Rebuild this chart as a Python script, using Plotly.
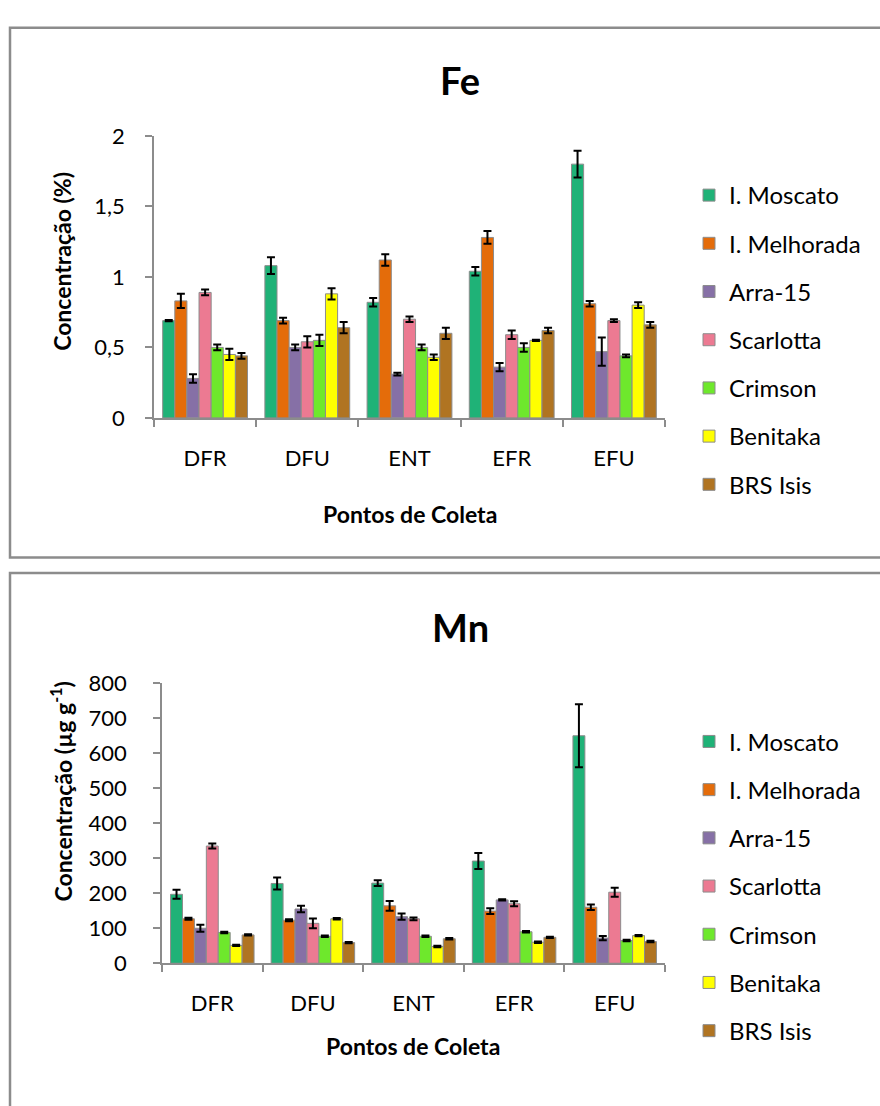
import plotly.graph_objects as go

points = ["DFR", "DFU", "ENT", "EFR", "EFU"]
cultivars = ["I. Moscato", "I. Melhorada", "Arra-15", "Scarlotta", "Crimson", "Benitaka", "BRS Isis"]
colors = ["#1FB277", "#E46C0A", "#8670A6", "#EC7A92", "#6EE82C", "#FFFF00", "#B07422"]

# Fe concentration (%) per cultivar, across points DFR, DFU, ENT, EFR, EFU
fe_vals = {
    "I. Moscato":   [0.69, 1.08, 0.82, 1.04, 1.80],
    "I. Melhorada": [0.83, 0.69, 1.12, 1.28, 0.81],
    "Arra-15":      [0.28, 0.50, 0.31, 0.36, 0.47],
    "Scarlotta":    [0.89, 0.54, 0.70, 0.59, 0.69],
    "Crimson":      [0.50, 0.55, 0.50, 0.50, 0.44],
    "Benitaka":     [0.45, 0.88, 0.43, 0.55, 0.80],
    "BRS Isis":     [0.44, 0.64, 0.60, 0.62, 0.66],
}
fe_err = {
    "I. Moscato":   [0.005, 0.06, 0.03, 0.03, 0.095],
    "I. Melhorada": [0.05, 0.02, 0.04, 0.045, 0.02],
    "Arra-15":      [0.03, 0.02, 0.01, 0.03, 0.10],
    "Scarlotta":    [0.02, 0.04, 0.02, 0.03, 0.01],
    "Crimson":      [0.02, 0.04, 0.02, 0.03, 0.01],
    "Benitaka":     [0.04, 0.04, 0.02, 0.005, 0.02],
    "BRS Isis":     [0.02, 0.04, 0.04, 0.02, 0.02],
}

# Mn concentration (ug/g)
mn_vals = {
    "I. Moscato":   [197, 228, 229, 292, 650],
    "I. Melhorada": [127, 123, 164, 149, 160],
    "Arra-15":      [100, 155, 133, 181, 72],
    "Scarlotta":    [335, 114, 127, 170, 203],
    "Crimson":      [88, 77, 77, 90, 65],
    "Benitaka":     [51, 127, 48, 60, 79],
    "BRS Isis":     [81, 59, 70, 74, 62],
}
mn_err = {
    "I. Moscato":   [13, 17, 8, 23, 90],
    "I. Melhorada": [3, 3, 14, 8, 8],
    "Arra-15":      [10, 9, 9, 2, 6],
    "Scarlotta":    [7, 14, 4, 7, 13],
    "Crimson":      [2, 2, 2, 2, 2],
    "Benitaka":     [2, 2, 2, 2, 2],
    "BRS Isis":     [2, 2, 2, 2, 2],
}

FONT = "Lato"
W, H = 880, 1106
TXT = 22
TITLE_TXT = 23

def py(p):
    return 1 - p / H

fig = go.Figure()

for i, c in enumerate(cultivars):
    fig.add_trace(go.Bar(
        x=points, y=fe_vals[c], name=c, xaxis="x", yaxis="y",
        marker=dict(color=colors[i], line=dict(color="#8C8C8C", width=1)),
        error_y=dict(type="data", array=fe_err[c], color="black", thickness=2, width=4),
        legend="legend", legendgroup="fe" + str(i),
    ))
for i, c in enumerate(cultivars):
    fig.add_trace(go.Bar(
        x=points, y=mn_vals[c], name=c, xaxis="x2", yaxis="y2",
        marker=dict(color=colors[i], line=dict(color="#8C8C8C", width=1)),
        error_y=dict(type="data", array=mn_err[c], color="black", thickness=2, width=4),
        legend="legend2", legendgroup="mn" + str(i),
    ))

axis_common = dict(showline=True, linecolor="#8C8C8C", linewidth=1.5, ticks="outside",
                   tickcolor="#8C8C8C", ticklen=7, tickwidth=1.5, showgrid=False, zeroline=False,
                   tickfont=dict(family=FONT, size=TXT, color="#000"))

legend_common = dict(font=dict(family=FONT, size=24, color="#000"), tracegroupgap=14,
                     bgcolor="rgba(0,0,0,0)", xanchor="left", yanchor="top", itemclick=False)

fig.update_layout(
    width=W, height=H, margin=dict(l=0, r=0, t=0, b=0),
    paper_bgcolor="white", plot_bgcolor="white",
    separators=",.",
    barmode="group", bargap=0.17, bargroupgap=0,
    showlegend=True,
    xaxis=dict(domain=[154 / W, 665 / W], anchor="y", tickson="boundaries",
               ticklabelstandoff=20, **axis_common),
    yaxis=dict(domain=[py(414), py(125)], anchor="x", range=[0, 2], dtick=0.5,
               ticklabelstandoff=16, **axis_common),
    xaxis2=dict(domain=[162 / W, 665 / W], anchor="y2", tickson="boundaries",
                ticklabelstandoff=20, **axis_common),
    yaxis2=dict(domain=[py(973), py(686)], anchor="x2", range=[0, 800], dtick=100,
                ticklabelstandoff=22, **axis_common),
    legend=dict(x=689 / W, y=py(163), **legend_common),
    legend2=dict(x=689 / W, y=py(723), **legend_common),
    shapes=[
        dict(type="rect", xref="paper", yref="paper", x0=10 / W, x1=1.02, y0=py(557), y1=py(14),
             line=dict(color="#8C8C8C", width=2.5), fillcolor="rgba(0,0,0,0)", layer="below"),
        dict(type="rect", xref="paper", yref="paper", x0=10 / W, x1=1.02, y0=-0.02, y1=py(573),
             line=dict(color="#8C8C8C", width=2.5), fillcolor="rgba(0,0,0,0)", layer="below"),
    ],
    annotations=[
        dict(text="<b>Fe</b>", x=460 / W, y=py(68), xref="paper", yref="paper", showarrow=False,
             font=dict(family=FONT, size=38, color="#000"), xanchor="center", yanchor="middle"),
        dict(text="<b>Mn</b>", x=460 / W, y=py(628), xref="paper", yref="paper", showarrow=False,
             font=dict(family=FONT, size=38, color="#000"), xanchor="center", yanchor="middle"),
        dict(text="<b>Concentração (%)</b>", x=62 / W, y=py(253), xref="paper", yref="paper",
             showarrow=False, textangle=-90, font=dict(family=FONT, size=TITLE_TXT, color="#000"),
             xanchor="center", yanchor="middle"),
        dict(text="<b>Concentração (µg g<sup>-1</sup>)</b>", x=62 / W, y=py(797), xref="paper", yref="paper",
             showarrow=False, textangle=-90, font=dict(family=FONT, size=TITLE_TXT, color="#000"),
             xanchor="center", yanchor="middle"),
        dict(text="<b>Pontos de Coleta</b>", x=410 / W, y=py(512), xref="paper", yref="paper",
             showarrow=False, font=dict(family=FONT, size=TITLE_TXT, color="#000"),
             xanchor="center", yanchor="middle"),
        dict(text="<b>Pontos de Coleta</b>", x=413 / W, y=py(1058), xref="paper", yref="paper",
             showarrow=False, font=dict(family=FONT, size=TITLE_TXT, color="#000"),
             xanchor="center", yanchor="middle"),
    ],
)

fig.write_html("out.html")
